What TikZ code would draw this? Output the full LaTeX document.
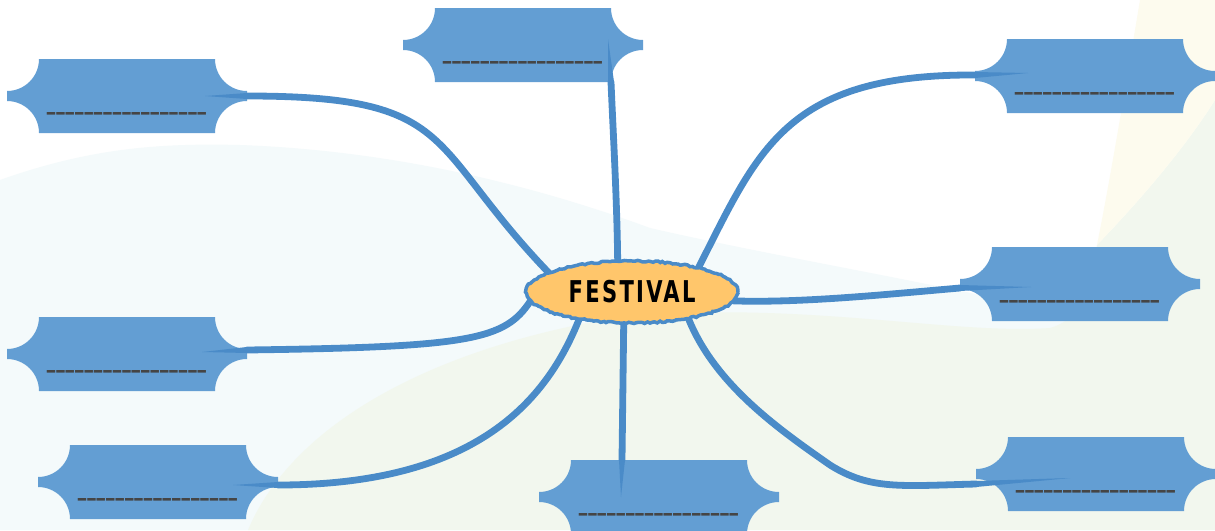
\documentclass[tikz,border=0pt]{standalone}
\usepackage{fontspec}
\usepackage{tikz}
\usetikzlibrary{shapes.geometric}
\usetikzlibrary{calc}
\usetikzlibrary{backgrounds}
\usetikzlibrary{decorations.pathmorphing}

\newfontfamily\festfont{DejaVu Sans Condensed}[LetterSpace=10]
\newfontfamily\dashfont{DejaVu Sans Mono}

\definecolor{topicblue}{HTML}{639ED3}
\definecolor{branchblue}{HTML}{4A8BC8}
\definecolor{festorange}{HTML}{FFC66B}
\definecolor{dashgray}{HTML}{454545}
\definecolor{bgblue}{HTML}{F4FAFB}
\definecolor{bggreen}{HTML}{F2F7EE}
\definecolor{bgyellow}{HTML}{FDFBEE}

\tikzset{
  topic/.style={minimum width=176pt, minimum height=74pt, inner sep=0pt, outer sep=0pt,
    text height=26pt, text depth=2pt, text=dashgray, font=\dashfont\bfseries\fontsize{14}{14}\selectfont},
  festival/.style={ellipse, minimum width=212pt, minimum height=62pt, inner sep=0pt, outer sep=0pt,
    fill=festorange, draw=branchblue, line width=3.5pt,
    decorate, decoration={random steps, segment length=2.5pt, amplitude=0.8pt},
    font=\festfont\bfseries\fontsize{30}{30}\selectfont},
  branch/.style={draw=branchblue, line width=6.8pt, line cap=round},
}

% blank line of a topic box
\newcommand\blankline{\foreach \k in {1,...,17}{\scalebox{1}[2]{\_}\kern1pt}}

% box with concave corners round a topic node
\newcommand\topicshape[1]{%
  \fill[topicblue] (#1.north west) -- (#1.north east)
    .. controls +(0pt,-17.7pt) and +(-17.7pt,0pt) .. ++(32pt,-32pt) -- ++(0pt,-10pt)
    .. controls +(-17.7pt,0pt) and +(0pt,17.7pt) .. (#1.south east)
    -- (#1.south west)
    .. controls +(0pt,17.7pt) and +(17.7pt,0pt) .. ++(-32pt,32pt) -- ++(0pt,10pt)
    .. controls +(17.7pt,0pt) and +(0pt,-17.7pt) .. (#1.north west) -- cycle;}

% thin pointed end of a branch
\newcommand\branchtip[2]{%
  \fill[branchblue] ($(#1)!3pt!90:(#2)$) -- (#2) -- ($(#1)!3pt!-90:(#2)$) -- cycle;}

\pgfmathsetseed{7}

\begin{document}
\begin{tikzpicture}[x=1pt, y=-1pt]
  \useasboundingbox (0,0) rectangle (1215,530);

  \node[festival] (c) at (632,292) {\scalebox{0.78}[1]{FESTIVAL}};

  \node[topic] (b1) at (127,96) {\blankline};
  \node[topic] (b2) at (523,45) {\blankline};
  \node[topic] (b3) at (1095,76) {\blankline};
  \node[topic] (b4) at (1080,284) {\blankline};
  \node[topic] (b5) at (1096,474) {\blankline};
  \node[topic] (b6) at (659,497) {\blankline};
  \node[topic] (b7) at (158,482) {\blankline};
  \node[topic] (b8) at (127,354) {\blankline};

  % where branches meet the boxes
  \coordinate (e1) at ([xshift=32pt]b1.east);
  \coordinate (t1) at ([xshift=-10pt]b1.east);
  \coordinate (e2) at (b2.south east);
  \coordinate (t2) at ([xshift=-3pt,yshift=6pt]b2.east);
  \coordinate (e3) at ([xshift=-32pt,yshift=1pt]b3.west);
  \coordinate (t3) at ([xshift=21pt,yshift=3pt]b3.west);
  \coordinate (e4) at ([xshift=-32pt,yshift=-4pt]b4.west);
  \coordinate (t4) at ([xshift=39pt,yshift=-3pt]b4.west);
  \coordinate (e5) at ([xshift=-32pt,yshift=-10pt]b5.west);
  \coordinate (t5) at ([xshift=62pt,yshift=-4pt]b5.west);
  \coordinate (e6) at ([xshift=-37pt]b6.north);
  \coordinate (t6) at ([xshift=-38pt]b6.center);
  \coordinate (e7) at ([xshift=32pt,yshift=-3pt]b7.east);
  \coordinate (t7) at ([xshift=-13pt,yshift=-3pt]b7.east);
  \coordinate (e8) at ([xshift=32pt,yshift=4pt]b8.east);
  \coordinate (t8) at ([xshift=-13pt,yshift=2pt]b8.east);

  \begin{pgfonlayer}{background}
    % backdrop
    \fill[white] (0,0) rectangle (1215,530);
    \fill[bgblue] (0,180) .. controls (90,148) and (160,143) .. (240,145)
      .. controls (380,150) and (520,180) .. (650,228)
      .. controls (780,258) and (950,285) .. (1100,322)
      -- (1215,340) -- (1215,530) -- (0,530) -- cycle;
    \fill[bggreen] (248,530) .. controls (290,430) and (420,350) .. (620,317)
      .. controls (800,300) and (950,335) .. (1050,328)
      .. controls (1080,320) and (1090,290) .. (1097,245)
      .. controls (1150,190) and (1190,140) .. (1215,100)
      -- (1215,530) -- cycle;
    \fill[bgyellow] (1140,0) .. controls (1125,90) and (1110,180) .. (1097,245)
      .. controls (1150,190) and (1190,140) .. (1215,100)
      -- (1215,0) -- cycle;

    \foreach \b in {b1,b2,b3,b4,b5,b6,b7,b8}
      \topicshape{\b};

    % branches
    \draw[branch] (c.167) .. controls (425,144) and (459,96) .. (e1);
    \draw[branch] (c.115) .. controls (617,200) and (613,130) .. (e2);
    \draw[branch] (c.20) .. controls (758,151) and (785,74) .. (e3);
    \draw[branch] (c.-5) .. controls (800,303) and (880,295) .. (e4);
    \draw[branch] (c.-25) .. controls (715,385) and (780,430) .. (830,465)
      .. controls (870,490) and (900,486) .. (e5);
    \draw[branch] (c.-105) -- (e6);
    \draw[branch] (c.-153) .. controls (547,400) and (477,485) .. (e7);
    \draw[branch] (c.-175) .. controls (505,340) and (470,347) .. (e8);
    \foreach \i in {1,...,8}
      \branchtip{e\i}{t\i};
  \end{pgfonlayer}
\end{tikzpicture}
\end{document}
